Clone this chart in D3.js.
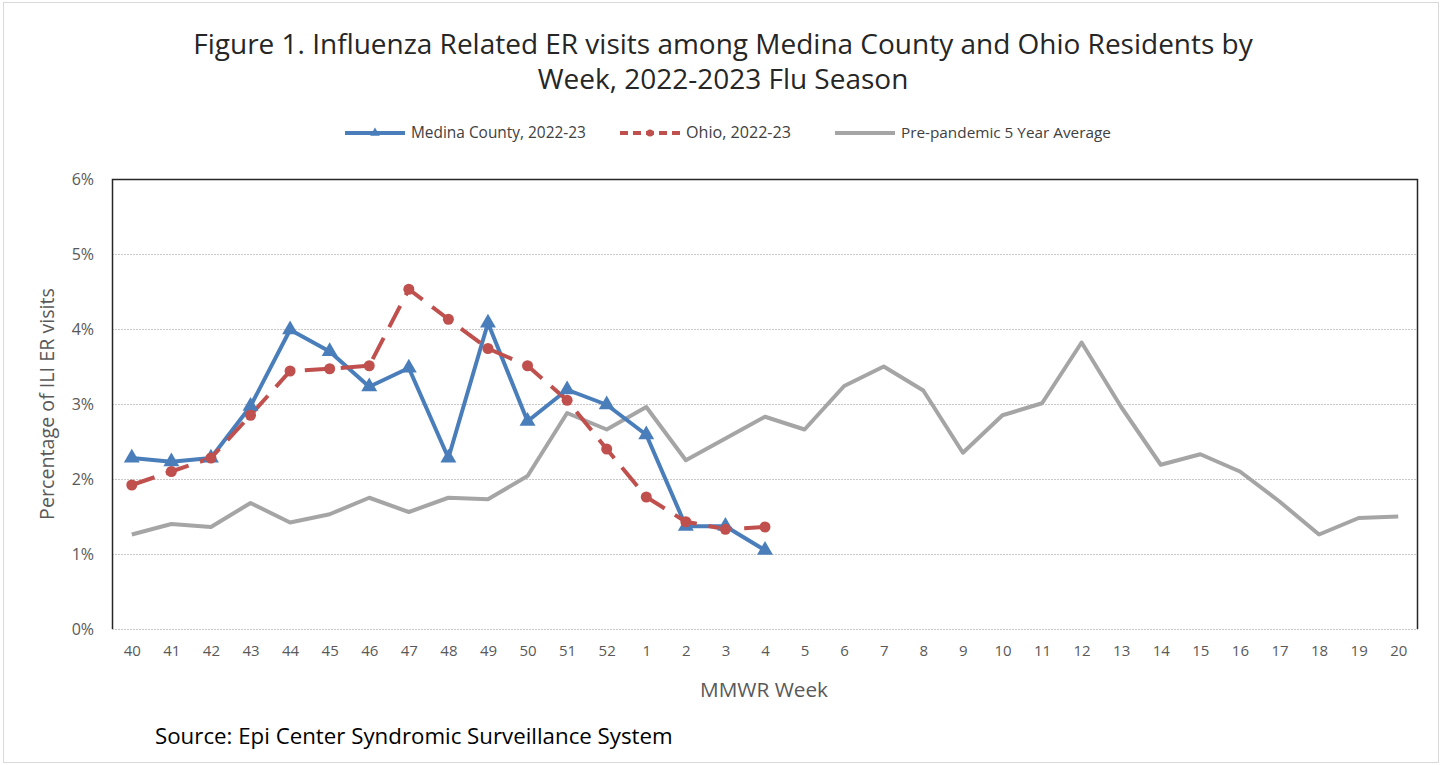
<!DOCTYPE html>
<html>
<head>
<meta charset="utf-8">
<script src="https://cdn.jsdelivr.net/npm/d3@7"></script>
<style>
  body { margin: 0; background: #fff; }
  svg { display: block; font-family: "Open Sans", sans-serif; }
</style>
</head>
<body>
<div id="chart"></div>
<script>
var weeks = ["40","41","42","43","44","45","46","47","48","49","50","51","52",
  "1","2","3","4","5","6","7","8","9","10","11","12","13","14","15","16","17","18","19","20"];
var medina = [2.28,2.23,2.28,2.97,3.99,3.70,3.23,3.48,2.28,4.08,2.77,3.19,2.99,2.59,1.37,1.37,1.05];
var ohio = [1.92,2.10,2.28,2.85,3.44,3.47,3.51,4.53,4.13,3.74,3.51,3.05,2.40,1.76,1.43,1.33,1.36];
var prePandemic = [1.26,1.40,1.36,1.68,1.42,1.53,1.75,1.56,1.75,1.73,2.04,2.88,2.66,2.96,2.25,2.54,2.83,
  2.66,3.24,3.50,3.18,2.35,2.85,3.01,3.82,2.96,2.19,2.33,2.10,1.70,1.26,1.48,1.50];
var yTicks = [0,1,2,3,4,5,6];
var seriesNames = ["Medina County, 2022-23", "Ohio, 2022-23", "Pre-pandemic 5 Year Average"];

var W = 1442, H = 765,
    margin = {top: 179, right: 24, bottom: 136, left: 112},
    width = W - margin.left - margin.right,
    height = H - margin.top - margin.bottom;

var svg = d3.select("#chart").append("svg").attr("width", W).attr("height", H);

// outer frame
svg.append("rect").attr("x", 3.5).attr("y", 2.5).attr("width", W - 7).attr("height", H - 5)
  .attr("fill", "none").attr("stroke", "#d9d9d9");

// the original uses a narrow font; scale the text to the same width instead
function fitWidth(t, w) {
  var size = parseFloat(t.attr("font-size"));
  var len = t.node().getComputedTextLength();
  t.attr("font-size", size * w / len);
}

var title1 = svg.append("text").attr("x", 723).attr("y", 54).attr("text-anchor", "middle")
  .attr("font-size", 26).attr("fill", "#262626")
  .text("Figure 1. Influenza Related ER visits among Medina County and Ohio Residents by");
fitWidth(title1, 1060);
svg.append("text").attr("x", 723).attr("y", 89).attr("text-anchor", "middle")
  .attr("font-size", title1.attr("font-size")).attr("fill", "#262626")
  .text("Week, 2022-2023 Flu Season");

var g = svg.append("g").attr("transform", "translate(" + margin.left + "," + margin.top + ")");

var x = d3.scalePoint().domain(weeks).range([0, width]).padding(0.5);
var y = d3.scaleLinear().domain([0, 6]).range([height, 0]);

// gridlines
g.selectAll(".grid").data(yTicks).enter().append("line")
  .attr("x1", 0).attr("x2", width)
  .attr("y1", function(d) { return Math.round(y(d)) + 0.5; })
  .attr("y2", function(d) { return Math.round(y(d)) + 0.5; })
  .attr("stroke", "#c8c8c8").attr("stroke-dasharray", "2,1");

// plot border (left, top, right)
g.append("path").attr("d", "M0.5," + height + "V0.5H" + (width - 0.5) + "V" + height)
  .attr("fill", "none").attr("stroke", "#262626").attr("stroke-width", 1.5);

// y axis labels
var yAxis = d3.axisLeft(y).tickValues(yTicks).tickSize(0).tickPadding(18)
  .tickFormat(function(d) { return d + "%"; });
var ya = g.append("g").call(yAxis);
ya.select(".domain").remove();
ya.selectAll("text").attr("font-size", 16).attr("fill", "#595959")
  .attr("font-family", "'Open Sans', sans-serif");

// x axis labels
var xAxis = d3.axisBottom(x).tickSize(0).tickPadding(16);
var xa = g.append("g").attr("transform", "translate(0," + height + ")").call(xAxis);
xa.select(".domain").remove();
xa.selectAll("text").attr("font-size", 15).attr("fill", "#595959")
  .attr("font-family", "'Open Sans', sans-serif");

// axis titles
var yt = svg.append("text").attr("transform", "translate(54," + (margin.top + height / 2) + ") rotate(-90)")
  .attr("text-anchor", "middle").attr("font-size", 16).attr("fill", "#595959")
  .text("Percentage of ILI ER visits");
fitWidth(yt, 232);
var xt = svg.append("text").attr("x", 764).attr("y", 697).attr("text-anchor", "middle")
  .attr("font-size", 17).attr("fill", "#595959").text("MMWR Week");
fitWidth(xt, 128);

var src = svg.append("text").attr("x", 155).attr("y", 744).attr("font-size", 20).attr("fill", "#000")
  .text("Source: Epi Center Syndromic Surveillance System");
fitWidth(src, 518);

var line = d3.line()
  .x(function(d, i) { return x(weeks[i]); })
  .y(function(d) { return y(d); });

var grey = "#a5a5a5", blue = "#4a7ebb", red = "#c0504d";

g.append("path").datum(prePandemic).attr("d", line).attr("fill", "none")
  .attr("stroke", grey).attr("stroke-width", 4).attr("stroke-linejoin", "round");

g.append("path").datum(medina).attr("d", line).attr("fill", "none")
  .attr("stroke", blue).attr("stroke-width", 4).attr("stroke-linejoin", "round");

g.append("path").datum(ohio).attr("d", line).attr("fill", "none")
  .attr("stroke", red).attr("stroke-width", 4).attr("stroke-dasharray", "24,12");

var tri = d3.symbol().type(d3.symbolTriangle).size(110);
g.selectAll(".tri").data(medina).enter().append("path")
  .attr("d", tri)
  .attr("transform", function(d, i) { return "translate(" + x(weeks[i]) + "," + y(d) + ")"; })
  .attr("fill", blue);

g.selectAll(".dot").data(ohio).enter().append("circle")
  .attr("cx", function(d, i) { return x(weeks[i]); })
  .attr("cy", function(d) { return y(d); })
  .attr("r", 5.5).attr("fill", red);

// legend
var legend = [
  {x: 345, w: 175, name: seriesNames[0], color: blue, dash: null, marker: "tri"},
  {x: 620, w: 105, name: seriesNames[1], color: red, dash: "8,5", marker: "dot"},
  {x: 835, w: 210, name: seriesNames[2], color: grey, dash: null, marker: null}
];
var lg = svg.append("g").attr("transform", "translate(0,133)");
legend.forEach(function(l) {
  lg.append("line").attr("x1", l.x).attr("x2", l.x + 60).attr("y1", 0).attr("y2", 0)
    .attr("stroke", l.color).attr("stroke-width", 4).attr("stroke-dasharray", l.dash);
  if (l.marker === "tri") {
    lg.append("path").attr("d", d3.symbol().type(d3.symbolTriangle).size(40))
      .attr("transform", "translate(" + (l.x + 30) + ",0)").attr("fill", l.color);
  } else if (l.marker === "dot") {
    lg.append("circle").attr("cx", l.x + 30).attr("cy", 0).attr("r", 3.5).attr("fill", l.color);
  }
  var t = lg.append("text").attr("x", l.x + 66).attr("y", 4.5).attr("font-size", 13).attr("fill", "#404040")
    .text(l.name);
  fitWidth(t, l.w);
});
</script>
</body>
</html>
